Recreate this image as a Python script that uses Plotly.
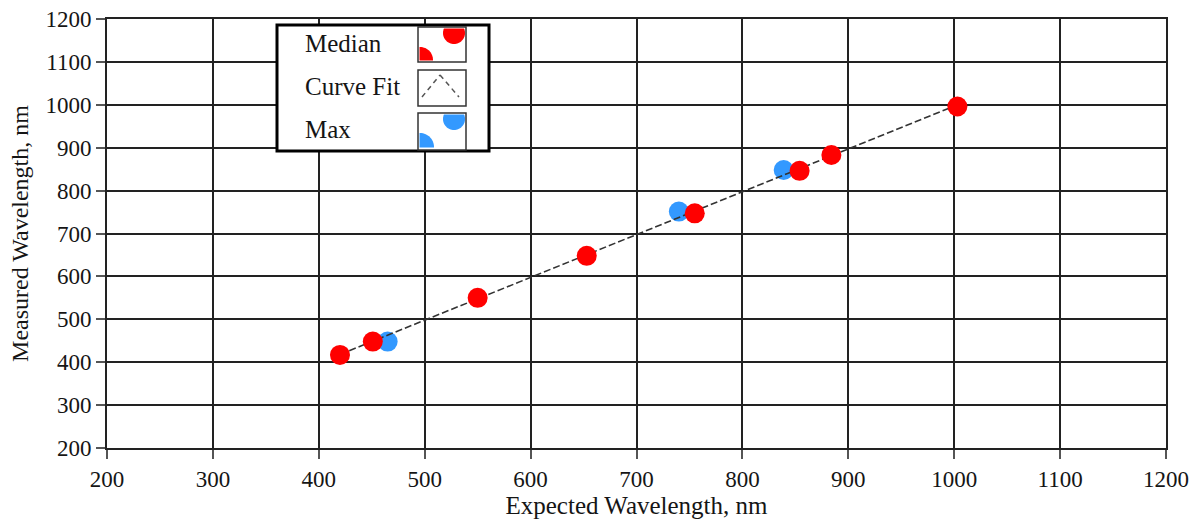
import numpy as np
import plotly.graph_objects as go

# ---------------- data ----------------
median_x = [420, 451, 550, 653, 755, 854, 884, 1003]
median_y = [417, 448, 550, 648, 747, 846, 883, 996]
max_x = [465, 740, 839]
max_y = [448, 751, 848]
fit_x = [420, 1003]
fit_y = [418, 1000]
tick_vals = list(range(200, 1201, 100))
legend_labels = ["Median", "Curve Fit", "Max"]

# ---------------- layout helpers ----------------
W, H = 1198, 522
L, R, T, B = 107, 1166, 19, 448
FONT = "Liberation Serif"
RED = "#FF0000"
BLUE = "#3399FF"
TXT = "#151515"


def px(X):
    return (X - L) / (R - L)


def py(Y):
    return (B - Y) / (B - T)


def clipped_circle(cx, cy, r, x0, x1, y0, y1, n=60):
    pts = []
    for a in np.linspace(0, 2 * np.pi, n, endpoint=False):
        X = min(max(cx + r * np.cos(a), x0), x1)
        Y = min(max(cy + r * np.sin(a), y0), y1)
        pts.append((px(X), py(Y)))
    return "M " + " L ".join(f"{a:.5f},{b:.5f}" for a, b in pts) + " Z"


fig = go.Figure()
fig.add_trace(go.Scatter(x=max_x, y=max_y, mode="markers",
                         marker=dict(size=20, color=BLUE, line=dict(width=0)),
                         name="Max", showlegend=False))
fig.add_trace(go.Scatter(x=fit_x, y=fit_y, mode="lines",
                         line=dict(color="#333333", width=1.6, dash="7px,3px"),
                         name="Curve Fit", showlegend=False))
fig.add_trace(go.Scatter(x=median_x, y=median_y, mode="markers",
                         marker=dict(size=20, color=RED, line=dict(width=0)),
                         name="Median", showlegend=False))

axis_common = dict(
    range=[200, 1200], tickvals=tick_vals, ticktext=[str(v) for v in tick_vals],
    showgrid=True, gridcolor="#222222", gridwidth=2,
    showline=True, linecolor="#222222", linewidth=2, mirror=True,
    ticks="outside", ticklen=9, tickwidth=2, tickcolor="#555555",
    tickfont=dict(family=FONT, size=23, color=TXT),
    zeroline=False, fixedrange=True, automargin=False,
)

fig.update_layout(
    width=W, height=H,
    margin=dict(l=L, r=W - R, t=T, b=H - B, autoexpand=False),
    paper_bgcolor="white", plot_bgcolor="white",
    xaxis=dict(**axis_common,
               title=dict(text="Expected Wavelength, nm",
                          font=dict(family=FONT, size=25, color=TXT),
                          standoff=6)),
    yaxis=dict(**axis_common,
               title=dict(text="Measured Wavelength, nm",
                          font=dict(family=FONT, size=24, color=TXT),
                          standoff=10)),
    showlegend=False,
)

shapes = []
# legend frame
shapes.append(dict(type="rect", xref="paper", yref="paper",
                   x0=px(277), x1=px(489), y0=py(151), y1=py(25),
                   fillcolor="white", line=dict(color="black", width=3), layer="above"))
# swatch boxes
boxes = [(27, 62), (70, 106), (113, 150)]
for (y0, y1) in boxes:
    shapes.append(dict(type="rect", xref="paper", yref="paper",
                       x0=px(418), x1=px(466), y0=py(y1), y1=py(y0),
                       fillcolor="white", line=dict(color="#333333", width=1.5), layer="above"))
# median swatch markers
shapes.append(dict(type="path", xref="paper", yref="paper", layer="above",
                   path=clipped_circle(420, 60, 13, 419.5, 466, 27.5, 60.5),
                   fillcolor=RED, line=dict(width=0)))
shapes.append(dict(type="path", xref="paper", yref="paper", layer="above",
                   path=clipped_circle(454, 33, 11, 419.5, 465, 28.5, 61),
                   fillcolor=RED, line=dict(width=0)))
# max swatch markers
shapes.append(dict(type="path", xref="paper", yref="paper", layer="above",
                   path=clipped_circle(420, 147, 14, 419.5, 466, 113.5, 147.5),
                   fillcolor=BLUE, line=dict(width=0)))
shapes.append(dict(type="path", xref="paper", yref="paper", layer="above",
                   path=clipped_circle(454, 119, 11, 419.5, 465, 114.5, 148),
                   fillcolor=BLUE, line=dict(width=0)))
# curve fit swatch
for (a, b) in [((422, 97), (440, 75)), ((440, 75), (459, 97))]:
    shapes.append(dict(type="line", xref="paper", yref="paper", layer="above",
                       x0=px(a[0]), y0=py(a[1]), x1=px(b[0]), y1=py(b[1]),
                       line=dict(color="#555555", width=1.5, dash="5px,4px")))
fig.update_layout(shapes=shapes)

for lab, yc in zip(legend_labels, [43, 87, 129]):
    fig.add_annotation(xref="paper", yref="paper", x=px(303), y=py(yc),
                       xanchor="left", yanchor="middle", showarrow=False,
                       text=lab, font=dict(family=FONT, size=25, color=TXT))

fig.write_html(
    "out.html",
    config={"displayModeBar": False},
    post_script="document.body.style.margin='0';document.body.style.overflow='hidden';",
)
